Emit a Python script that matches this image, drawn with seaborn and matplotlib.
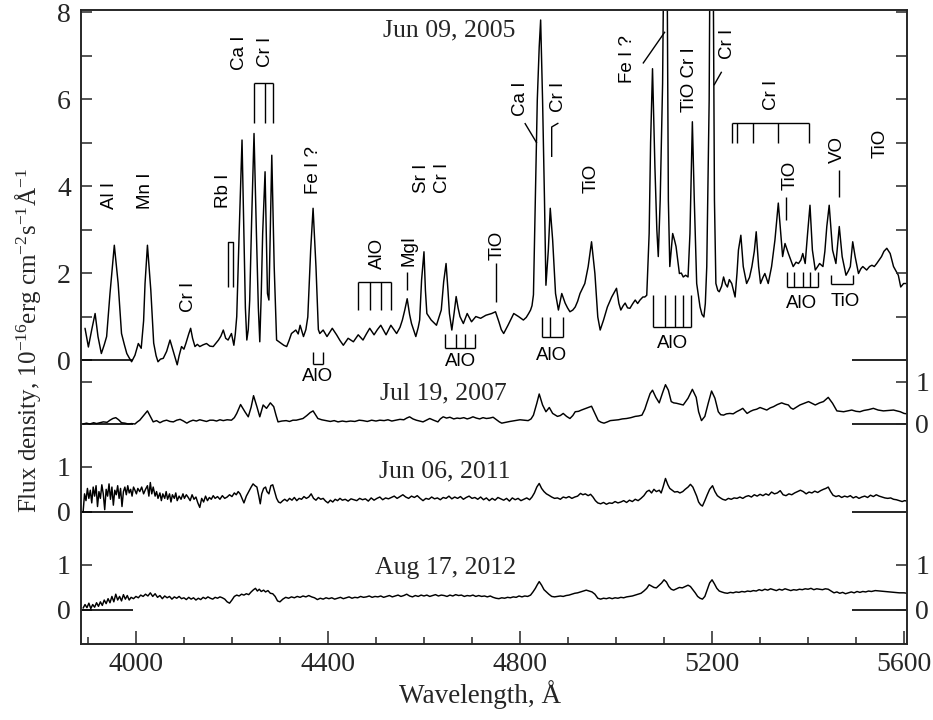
import numpy as np
import pandas as pd
import matplotlib
matplotlib.use("Agg")
import matplotlib.pyplot as plt
import seaborn as sns

# ---------------- data ----------------
wl_2005 = [3894, 3901, 3908, 3915, 3921, 3928, 3934, 3939, 3946, 3955,
           3963, 3970, 3976, 3981, 3986, 3991, 3998, 4005, 4011, 4016,
           4019, 4024, 4031, 4037, 4042, 4046, 4051, 4057, 4064, 4071,
           4078, 4086, 4090, 4095, 4100, 4104, 4110, 4114, 4118, 4123,
           4128, 4133, 4140, 4147, 4154, 4161, 4166, 4172, 4177, 4182,
           4187, 4192, 4199, 4204, 4207, 4210, 4215, 4221, 4225, 4228,
           4231, 4234, 4237, 4241, 4246, 4251, 4255, 4258, 4261, 4264,
           4269, 4272, 4274, 4277, 4280, 4283, 4288, 4293, 4298, 4303,
           4308, 4314, 4319, 4324, 4333, 4338, 4342, 4349, 4354, 4358,
           4364, 4369, 4375, 4380, 4383, 4390, 4398, 4409, 4418, 4425,
           4432, 4442, 4453, 4463, 4473, 4480, 4487, 4496, 4503, 4510,
           4521, 4531, 4543, 4550, 4555, 4560, 4565, 4570, 4574, 4583,
           4588, 4591, 4595, 4600, 4603, 4606, 4615, 4626, 4636, 4641,
           4646, 4650, 4653, 4658, 4663, 4667, 4671, 4675, 4682, 4690,
           4699, 4708, 4718, 4729, 4741, 4749, 4756, 4761, 4766, 4775,
           4787, 4797, 4807, 4813, 4818, 4822, 4825, 4828, 4832, 4836,
           4840, 4843, 4847, 4851, 4854, 4859, 4863, 4868, 4874, 4880,
           4887, 4894, 4899, 4904, 4910, 4915, 4920, 4925, 4935, 4942,
           4949, 4956, 4962, 4967, 4974, 4982, 4991, 4996, 5001, 5006,
           5010, 5015, 5019, 5024, 5029, 5035, 5040, 5045, 5050, 5056,
           5060, 5064, 5069, 5072, 5076, 5081, 5085, 5088, 5092, 5097,
           5100, 5106, 5109, 5112, 5118, 5122, 5125, 5132, 5136, 5140,
           5145, 5150, 5154, 5159, 5163, 5168, 5175, 5179, 5183, 5186,
           5189, 5194, 5196, 5202, 5205, 5208, 5212, 5215, 5220, 5224,
           5228, 5232, 5236, 5241, 5248, 5252, 5255, 5260, 5265, 5272,
           5278, 5283, 5288, 5292, 5297, 5301, 5306, 5310, 5317, 5324,
           5331, 5338, 5343, 5347, 5352, 5359, 5364, 5369, 5375, 5380,
           5385, 5389, 5394, 5399, 5404, 5409, 5415, 5420, 5424, 5431,
           5435, 5439, 5444, 5451, 5458, 5465, 5471, 5479, 5484, 5488,
           5493, 5498, 5505, 5510, 5514, 5522, 5528, 5533, 5538, 5543,
           5548, 5553, 5558, 5564, 5571, 5578, 5583, 5588, 5593, 5599, 5606]
flux_2005 = [0.73, 0.30, 0.70, 1.07, 0.54, 0.15, 0.35, 0.54, 1.53, 2.64,
             1.76, 0.61, 0.35, 0.15, 0.05, -0.04, 0.11, 0.38, 0.27, 0.90,
             1.76, 2.64, 1.61, 0.39, 0.10, -0.04, 0.02, 0.04, 0.20, 0.46,
             0.19, -0.11, 0.10, 0.31, 0.25, 0.38, 0.60, 0.73, 0.50, 0.31,
             0.36, 0.31, 0.35, 0.38, 0.32, 0.31, 0.38, 0.46, 0.55, 0.69,
             0.50, 0.46, 0.61, 0.34, 0.60, 1.00, 2.91, 5.06, 2.91, 1.20,
             0.46, 0.70, 1.38, 3.20, 5.21, 2.91, 1.20, 0.42, 1.50, 2.91,
             4.33, 2.60, 1.53, 1.38, 3.00, 4.71, 2.15, 0.46, 0.42, 0.38,
             0.34, 0.31, 0.45, 0.61, 0.69, 0.60, 0.80, 0.54, 0.70, 0.99,
             2.53, 3.49, 2.15, 0.70, 0.61, 0.69, 0.54, 0.73, 0.58, 0.45,
             0.34, 0.50, 0.42, 0.58, 0.46, 0.60, 0.73, 0.58, 0.70, 0.80,
             0.58, 0.80, 0.61, 0.75, 0.92, 1.15, 1.41, 1.05, 0.84, 0.54,
             0.75, 0.92, 1.84, 2.49, 1.60, 1.07, 0.92, 0.80, 1.15, 1.80,
             2.22, 1.60, 1.07, 0.69, 1.10, 1.46, 1.20, 1.00, 0.84, 1.07,
             0.88, 1.00, 0.96, 1.03, 1.07, 1.11, 0.88, 0.70, 0.61, 0.80,
             1.07, 1.00, 0.92, 0.98, 1.07, 1.15, 1.25, 1.50, 3.68, 5.98,
             7.20, 7.82, 5.98, 3.68, 1.72, 2.53, 3.49, 2.76, 1.53, 1.15,
             1.53, 1.31, 1.20, 1.11, 1.15, 1.22, 1.35, 1.53, 1.76, 2.15,
             2.72, 1.99, 0.99, 0.69, 0.92, 1.22, 1.45, 1.55, 1.65, 1.30,
             1.15, 1.25, 1.31, 1.20, 1.19, 1.30, 1.38, 1.30, 1.38, 1.45,
             1.45, 1.49, 2.91, 5.00, 6.70, 4.44, 3.00, 2.38, 3.68, 6.36,
             10.0, 10.0, 3.68, 2.15, 2.91, 2.75, 2.61, 1.99, 2.00, 1.91,
             1.95, 1.91, 2.91, 5.48, 3.68, 1.76, 1.22, 1.05, 0.99, 1.30,
             2.15, 5.98, 10.0, 10.0, 3.68, 1.76, 1.60, 1.57, 1.70, 1.91,
             1.75, 1.68, 1.85, 1.76, 1.45, 2.00, 2.53, 2.87, 2.15, 1.76,
             1.90, 2.15, 2.50, 2.95, 2.15, 1.76, 1.90, 1.99, 1.76, 2.15,
             2.76, 3.61, 2.91, 2.38, 2.68, 2.45, 2.30, 2.15, 2.25, 2.22,
             2.30, 2.45, 2.22, 2.91, 3.56, 2.53, 2.07, 2.15, 2.22, 2.15,
             2.50, 3.07, 3.56, 2.53, 2.22, 3.07, 2.38, 1.95, 2.05, 2.15,
             2.72, 2.38, 1.99, 2.10, 2.15, 2.07, 2.15, 2.18, 2.15, 2.22,
             2.30, 2.38, 2.50, 2.57, 2.45, 2.15, 2.05, 1.95, 1.68, 1.76, 1.76]

wl_2007 = [3890, 3897, 3904, 3912, 3918, 3925, 3932, 3940, 3946, 3952,
           3958, 3964, 3970, 3977, 3984, 3991, 3998, 4003, 4008, 4016,
           4024, 4030, 4036, 4043, 4050, 4057, 4064, 4071, 4078, 4085,
           4092, 4099, 4106, 4112, 4119, 4126, 4133, 4140, 4147, 4154,
           4161, 4168, 4175, 4182, 4190, 4199, 4205, 4210, 4218, 4227,
           4234, 4240, 4245, 4252, 4258, 4265, 4272, 4280, 4287, 4292,
           4296, 4304, 4313, 4320, 4327, 4334, 4341, 4348, 4356, 4363,
           4369, 4374, 4379, 4387, 4396, 4405, 4413, 4421, 4430, 4438,
           4447, 4456, 4465, 4473, 4482, 4491, 4500, 4508, 4517, 4525,
           4533, 4542, 4550, 4558, 4564, 4570, 4577, 4584, 4591, 4598,
           4605, 4612, 4620, 4629, 4634, 4640, 4647, 4654, 4662, 4669,
           4675, 4683, 4690, 4696, 4702, 4709, 4716, 4723, 4730, 4737,
           4744, 4751, 4757, 4762, 4770, 4779, 4790, 4800, 4808, 4817,
           4823, 4828, 4835, 4840, 4847, 4854, 4861, 4868, 4878, 4884,
           4890, 4897, 4904, 4910, 4915, 4922, 4928, 4935, 4942, 4949,
           4956, 4963, 4969, 4975, 4982, 4988, 4997, 5005, 5013, 5022,
           5031, 5040, 5047, 5054, 5060, 5064, 5071, 5076, 5083, 5090,
           5097, 5103, 5109, 5115, 5120, 5126, 5133, 5140, 5150, 5159,
           5167, 5172, 5178, 5185, 5192, 5199, 5206, 5213, 5218, 5224,
           5230, 5237, 5244, 5251, 5258, 5264, 5273, 5280, 5286, 5293,
           5300, 5307, 5314, 5321, 5328, 5336, 5345, 5352, 5359, 5364,
           5369, 5376, 5383, 5392, 5401, 5408, 5415, 5424, 5432, 5437,
           5442, 5451, 5460, 5467, 5474, 5482, 5491, 5500, 5508, 5516,
           5526, 5536, 5546, 5557, 5567, 5578, 5585, 5592, 5600, 5606]
flux_2007 = [0.00, 0.02, 0.00, 0.03, 0.01, 0.03, 0.05, 0.04, 0.09, 0.13,
             0.15, 0.10, 0.03, 0.02, 0.00, 0.01, 0.00, 0.05, 0.09, 0.20,
             0.31, 0.18, 0.05, 0.08, 0.03, 0.07, 0.09, 0.06, 0.05, 0.09,
             0.11, 0.07, 0.02, 0.06, 0.09, 0.07, 0.10, 0.08, 0.06, 0.09,
             0.09, 0.07, 0.10, 0.08, 0.10, 0.09, 0.15, 0.25, 0.46, 0.29,
             0.17, 0.40, 0.67, 0.41, 0.17, 0.45, 0.37, 0.50, 0.41, 0.20,
             0.05, 0.07, 0.08, 0.06, 0.09, 0.09, 0.11, 0.13, 0.20, 0.27,
             0.31, 0.22, 0.13, 0.10, 0.08, 0.06, 0.08, 0.05, 0.07, 0.055,
             0.07, 0.06, 0.09, 0.08, 0.06, 0.09, 0.07, 0.09, 0.08, 0.10,
             0.07, 0.09, 0.11, 0.10, 0.14, 0.17, 0.12, 0.09, 0.07, 0.05,
             0.09, 0.13, 0.09, 0.05, 0.12, 0.17, 0.14, 0.16, 0.12, 0.14,
             0.13, 0.15, 0.12, 0.14, 0.17, 0.14, 0.12, 0.15, 0.13, 0.14,
             0.16, 0.10, 0.05, 0.02, 0.04, 0.06, 0.08, 0.10, 0.09, 0.08,
             0.12, 0.21, 0.49, 0.71, 0.45, 0.29, 0.39, 0.25, 0.18, 0.20,
             0.25, 0.18, 0.13, 0.20, 0.29, 0.30, 0.33, 0.36, 0.39, 0.42,
             0.25, 0.08, 0.04, 0.02, 0.05, 0.08, 0.09, 0.10, 0.12, 0.13,
             0.15, 0.18, 0.19, 0.21, 0.35, 0.49, 0.72, 0.80, 0.63, 0.50,
             0.74, 0.93, 0.80, 0.53, 0.50, 0.49, 0.47, 0.45, 0.61, 0.82,
             0.63, 0.29, 0.08, 0.18, 0.49, 0.78, 0.61, 0.29, 0.22, 0.21,
             0.24, 0.25, 0.24, 0.29, 0.33, 0.37, 0.25, 0.30, 0.33, 0.35,
             0.39, 0.36, 0.33, 0.38, 0.41, 0.46, 0.50, 0.47, 0.45, 0.38,
             0.35, 0.40, 0.45, 0.49, 0.53, 0.49, 0.45, 0.50, 0.53, 0.58,
             0.63, 0.49, 0.31, 0.30, 0.29, 0.31, 0.33, 0.30, 0.29, 0.32,
             0.34, 0.37, 0.33, 0.31, 0.32, 0.33, 0.31, 0.29, 0.25, 0.24]

wl_2011 = [3890, 3893, 3896, 3899, 3902, 3905, 3908, 3911, 3914, 3917, 3920, 3923, 3926, 3929, 3932, 3935, 3938,
           3941, 3944, 3947, 3950, 3953, 3956, 3959, 3962, 3965, 3968, 3971, 3974, 3977, 3980, 3983, 3986, 3989,
           3992, 3995, 3998, 4001, 4004, 4008, 4012, 4016, 4020, 4024, 4027, 4030, 4033, 4036, 4040, 4043, 4046,
           4050, 4053, 4056, 4060, 4063, 4066, 4070, 4073, 4076, 4080, 4083, 4086, 4090, 4094, 4098, 4101, 4105,
           4109, 4113, 4117, 4121, 4125, 4129, 4133, 4137, 4141, 4145, 4149, 4153, 4157, 4161, 4165, 4170, 4175,
           4180, 4185, 4190, 4195, 4200, 4205, 4209, 4213, 4217, 4221, 4225, 4230, 4235, 4240, 4244, 4248, 4252,
           4256, 4259, 4262, 4266, 4270, 4273, 4277, 4281, 4285, 4289, 4293, 4297, 4301, 4306, 4310, 4315, 4320,
           4325, 4330, 4335, 4340, 4345, 4350, 4355, 4360, 4365, 4370, 4375, 4380, 4385, 4390, 4395, 4400, 4405,
           4410, 4415, 4420, 4425, 4430, 4436, 4442, 4448, 4454, 4460, 4466, 4472, 4478, 4484, 4490, 4496, 4502,
           4508, 4514, 4520, 4526, 4532, 4538, 4544, 4550, 4556, 4562, 4568, 4574, 4580, 4586, 4592, 4598, 4604,
           4610, 4616, 4622, 4628, 4634, 4640, 4646, 4652, 4658, 4664, 4670, 4676, 4682, 4688, 4694, 4700, 4706,
           4712, 4718, 4724, 4730, 4736, 4742, 4748, 4754, 4760, 4766, 4772, 4778, 4784, 4790, 4796, 4802, 4808,
           4814, 4820, 4825, 4830, 4835, 4840, 4845, 4850, 4855, 4860, 4866, 4872, 4878, 4884, 4890, 4896, 4902,
           4908, 4914, 4920, 4926, 4931, 4936, 4942, 4947, 4952, 4957, 4962, 4968, 4974, 4980, 4986, 4992, 4998,
           5004, 5010, 5016, 5022, 5028, 5034, 5040, 5046, 5052, 5058, 5064, 5069, 5074, 5079, 5084, 5090, 5094,
           5098, 5103, 5108, 5112, 5117, 5122, 5128, 5133, 5139, 5144, 5150, 5155, 5160, 5164, 5168, 5172, 5176,
           5180, 5185, 5190, 5195, 5201, 5206, 5211, 5216, 5222, 5228, 5234, 5240, 5246, 5252, 5258, 5264, 5270,
           5276, 5282, 5288, 5294, 5300, 5306, 5312, 5318, 5324, 5330, 5336, 5342, 5348, 5354, 5360, 5366, 5372,
           5378, 5384, 5390, 5396, 5402, 5408, 5414, 5420, 5426, 5432, 5437, 5442, 5447, 5452, 5458, 5464, 5470,
           5476, 5482, 5488, 5494, 5500, 5506, 5512, 5518, 5524, 5530, 5536, 5542, 5548, 5554, 5560, 5566, 5572,
           5578, 5584, 5590, 5596, 5601, 5606]
flux_2011 = [0.00, 0.40, 0.25, 0.52, 0.30, 0.48, 0.20, 0.55, 0.35, 0.58, 0.12, 0.45, 0.30, 0.60, 0.40, 0.05, 0.50,
             0.35, 0.62, 0.28, 0.55, 0.15, 0.48, 0.38, 0.58, 0.30, 0.52, 0.12, 0.45, 0.55, 0.38, 0.58, 0.42, 0.50,
             0.35, 0.55, 0.48, 0.40, 0.52, 0.45, 0.55, 0.40, 0.50, 0.58, 0.35, 0.65, 0.40, 0.55, 0.35, 0.45, 0.30,
             0.42, 0.25, 0.40, 0.30, 0.45, 0.28, 0.40, 0.22, 0.38, 0.30, 0.42, 0.25, 0.35, 0.28, 0.40, 0.30, 0.38,
             0.32, 0.25, 0.38, 0.28, 0.33, 0.20, 0.10, 0.30, 0.22, 0.35, 0.25, 0.32, 0.28, 0.36, 0.30, 0.34, 0.28,
             0.36, 0.30, 0.33, 0.38, 0.34, 0.42, 0.38, 0.45, 0.40, 0.30, 0.20, 0.35, 0.45, 0.55, 0.62, 0.58, 0.55,
             0.35, 0.18, 0.40, 0.52, 0.55, 0.45, 0.40, 0.58, 0.60, 0.45, 0.30, 0.22, 0.20, 0.25, 0.28, 0.24, 0.30,
             0.26, 0.32, 0.25, 0.30, 0.28, 0.34, 0.30, 0.33, 0.40, 0.30, 0.26, 0.32, 0.28, 0.30, 0.24, 0.20, 0.26,
             0.22, 0.28, 0.25, 0.30, 0.26, 0.28, 0.24, 0.29, 0.27, 0.25, 0.30, 0.27, 0.29, 0.24, 0.31, 0.26, 0.30,
             0.33, 0.27, 0.31, 0.29, 0.32, 0.35, 0.30, 0.34, 0.38, 0.33, 0.30, 0.35, 0.32, 0.36, 0.30, 0.25, 0.30,
             0.28, 0.33, 0.29, 0.31, 0.27, 0.32, 0.30, 0.35, 0.29, 0.33, 0.30, 0.34, 0.28, 0.32, 0.35, 0.30, 0.32,
             0.28, 0.33, 0.27, 0.31, 0.25, 0.30, 0.26, 0.32, 0.29, 0.26, 0.30, 0.24, 0.31, 0.27, 0.30, 0.25, 0.28,
             0.31, 0.27, 0.33, 0.42, 0.55, 0.63, 0.52, 0.45, 0.40, 0.37, 0.33, 0.30, 0.31, 0.28, 0.33, 0.31, 0.34,
             0.30, 0.33, 0.35, 0.41, 0.38, 0.40, 0.36, 0.39, 0.33, 0.25, 0.20, 0.18, 0.21, 0.17, 0.20, 0.19, 0.23,
             0.20, 0.22, 0.25, 0.21, 0.26, 0.23, 0.28, 0.25, 0.30, 0.36, 0.45, 0.48, 0.42, 0.50, 0.45, 0.48, 0.42,
             0.55, 0.74, 0.60, 0.52, 0.48, 0.44, 0.45, 0.42, 0.45, 0.50, 0.55, 0.61, 0.55, 0.45, 0.35, 0.22, 0.16,
             0.13, 0.25, 0.38, 0.50, 0.58, 0.45, 0.36, 0.32, 0.28, 0.26, 0.30, 0.28, 0.31, 0.30, 0.33, 0.30, 0.34,
             0.36, 0.33, 0.38, 0.35, 0.39, 0.36, 0.40, 0.37, 0.44, 0.40, 0.42, 0.47, 0.38, 0.36, 0.40, 0.38, 0.42,
             0.45, 0.48, 0.45, 0.40, 0.44, 0.42, 0.46, 0.43, 0.47, 0.50, 0.52, 0.55, 0.45, 0.37, 0.34, 0.36, 0.32,
             0.35, 0.33, 0.36, 0.31, 0.34, 0.30, 0.33, 0.35, 0.32, 0.37, 0.34, 0.38, 0.35, 0.33, 0.31, 0.30, 0.31,
             0.28, 0.27, 0.25, 0.23, 0.25, 0.24]

wl_2012 = [3890, 3894, 3898, 3902, 3906, 3910, 3914, 3918, 3922, 3926, 3930, 3934, 3938, 3942, 3946, 3950, 3954,
           3958, 3962, 3966, 3970, 3974, 3978, 3982, 3986, 3990, 3995, 4000, 4005, 4010, 4015, 4020, 4025, 4030,
           4035, 4040, 4045, 4050, 4055, 4060, 4065, 4070, 4075, 4080, 4085, 4090, 4095, 4100, 4105, 4110, 4115,
           4120, 4125, 4130, 4135, 4140, 4145, 4150, 4155, 4160, 4165, 4170, 4175, 4180, 4185, 4190, 4195, 4200,
           4205, 4210, 4215, 4220, 4225, 4230, 4235, 4240, 4245, 4249, 4253, 4257, 4261, 4266, 4270, 4275, 4280,
           4285, 4290, 4295, 4300, 4306, 4312, 4318, 4324, 4330, 4336, 4342, 4348, 4354, 4360, 4366, 4372, 4378,
           4384, 4390, 4396, 4402, 4408, 4414, 4420, 4426, 4432, 4438, 4444, 4450, 4456, 4462, 4468, 4474, 4480,
           4486, 4492, 4498, 4504, 4510, 4516, 4522, 4528, 4534, 4540, 4546, 4552, 4558, 4564, 4570, 4576, 4582,
           4588, 4594, 4600, 4606, 4612, 4618, 4624, 4630, 4636, 4642, 4648, 4654, 4660, 4666, 4672, 4678, 4684,
           4690, 4696, 4702, 4708, 4714, 4720, 4726, 4732, 4738, 4744, 4750, 4756, 4762, 4768, 4774, 4780, 4786,
           4792, 4798, 4804, 4810, 4816, 4822, 4827, 4832, 4836, 4840, 4845, 4850, 4855, 4860, 4866, 4872, 4878,
           4884, 4890, 4896, 4902, 4908, 4914, 4920, 4926, 4932, 4938, 4944, 4950, 4956, 4962, 4968, 4974, 4980,
           4986, 4992, 4998, 5004, 5010, 5016, 5022, 5028, 5034, 5040, 5046, 5052, 5058, 5064, 5069, 5074, 5079,
           5084, 5090, 5095, 5100, 5105, 5110, 5115, 5120, 5126, 5132, 5138, 5144, 5150, 5155, 5160, 5165, 5170,
           5175, 5180, 5185, 5190, 5195, 5200, 5205, 5210, 5215, 5220, 5226, 5232, 5238, 5244, 5250, 5256, 5262,
           5268, 5274, 5280, 5286, 5292, 5298, 5304, 5310, 5316, 5322, 5328, 5334, 5340, 5346, 5352, 5358, 5364,
           5370, 5376, 5382, 5388, 5394, 5400, 5406, 5412, 5418, 5424, 5430, 5436, 5442, 5448, 5454, 5460, 5466,
           5472, 5478, 5484, 5490, 5496, 5502, 5508, 5514, 5520, 5526, 5532, 5540, 5550, 5560, 5570, 5580, 5590,
           5600, 5606]
flux_2012 = [0.04, 0.12, 0.05, 0.15, 0.03, 0.12, 0.06, 0.16, 0.08, 0.18, 0.10, 0.22, 0.14, 0.25, 0.16, 0.30, 0.18,
             0.35, 0.22, 0.30, 0.20, 0.34, 0.24, 0.32, 0.22, 0.28, 0.25, 0.30, 0.27, 0.33, 0.30, 0.35, 0.31, 0.38,
             0.30, 0.36, 0.28, 0.32, 0.25, 0.31, 0.27, 0.30, 0.24, 0.29, 0.26, 0.30, 0.25, 0.27, 0.23, 0.28, 0.24,
             0.27, 0.22, 0.26, 0.23, 0.28, 0.25, 0.29, 0.26, 0.24, 0.28, 0.26, 0.29, 0.27, 0.24, 0.18, 0.15, 0.22,
             0.30, 0.33, 0.31, 0.35, 0.33, 0.36, 0.34, 0.40, 0.45, 0.48, 0.42, 0.46, 0.41, 0.44, 0.40, 0.43, 0.37,
             0.36, 0.30, 0.20, 0.18, 0.24, 0.28, 0.26, 0.29, 0.27, 0.30, 0.28, 0.31, 0.29, 0.32, 0.29, 0.27, 0.23,
             0.26, 0.24, 0.27, 0.25, 0.27, 0.24, 0.26, 0.28, 0.25, 0.27, 0.29, 0.26, 0.28, 0.27, 0.30, 0.28, 0.29,
             0.31, 0.28, 0.30, 0.29, 0.31, 0.28, 0.30, 0.32, 0.29, 0.31, 0.33, 0.30, 0.32, 0.35, 0.31, 0.29, 0.32,
             0.30, 0.33, 0.31, 0.33, 0.30, 0.32, 0.34, 0.31, 0.33, 0.32, 0.30, 0.33, 0.31, 0.34, 0.32, 0.33, 0.30,
             0.32, 0.31, 0.33, 0.30, 0.32, 0.30, 0.31, 0.29, 0.31, 0.28, 0.26, 0.25, 0.27, 0.26, 0.28, 0.27, 0.29,
             0.28, 0.31, 0.29, 0.31, 0.30, 0.33, 0.40, 0.48, 0.56, 0.63, 0.55, 0.45, 0.40, 0.35, 0.30, 0.29, 0.30,
             0.31, 0.30, 0.32, 0.33, 0.35, 0.37, 0.38, 0.40, 0.42, 0.44, 0.42, 0.40, 0.35, 0.26, 0.24, 0.26, 0.25,
             0.27, 0.25, 0.27, 0.26, 0.28, 0.27, 0.29, 0.30, 0.31, 0.33, 0.35, 0.37, 0.42, 0.48, 0.56, 0.53, 0.50,
             0.49, 0.55, 0.60, 0.67, 0.62, 0.52, 0.46, 0.44, 0.47, 0.50, 0.49, 0.52, 0.55, 0.52, 0.45, 0.38, 0.30,
             0.26, 0.24, 0.30, 0.45, 0.60, 0.67, 0.58, 0.48, 0.42, 0.40, 0.38, 0.37, 0.39, 0.38, 0.40, 0.39, 0.41,
             0.40, 0.42, 0.41, 0.43, 0.42, 0.45, 0.43, 0.46, 0.44, 0.47, 0.45, 0.43, 0.46, 0.44, 0.47, 0.45, 0.43,
             0.45, 0.44, 0.46, 0.45, 0.47, 0.46, 0.48, 0.45, 0.47, 0.46, 0.45, 0.47, 0.46, 0.42, 0.38, 0.40, 0.37,
             0.39, 0.36, 0.38, 0.40, 0.38, 0.41, 0.39, 0.41, 0.40, 0.42, 0.41, 0.43, 0.42, 0.41, 0.40, 0.39, 0.38,
             0.38, 0.37]

epochs = ["Jun 09, 2005", "Jul 19, 2007", "Jun 06, 2011", "Aug 17, 2012"]

# ---------------- layout (offsets / scale of each spectrum on the common axis) ----------------
offsets = [0.0, -1.471, -3.494, -5.747]
scales = [1.0, 0.972, 1.041, 1.034]
date_pos = [(4652, 7.57), (4640, -0.76), (4644, -2.57), (4644, -4.78)]

# line identifications: (text, wavelength, y, rotation)
line_ids = [
    ("Al I", 3946, 3.79, 90), ("Mn I", 4021, 3.89, 90), ("Cr I", 4110, 1.45, 90), ("Rb I", 4183, 3.89, 90),
    ("Ca I", 4215, 7.06, 90), ("Cr I", 4269, 7.08, 90), ("Fe I ?", 4369, 4.37, 90), ("AlO", 4503, 2.46, 90),
    ("MgI", 4569, 2.52, 90), ("Sr I", 4595, 4.18, 90), ("Cr I", 4638, 4.18, 90), ("TiO", 4752, 2.64, 90),
    ("Ca I", 4800, 6.00, 90), ("Cr I", 4881, 6.05, 90), ("TiO", 4948, 4.18, 90), ("Fe I ?", 5023, 6.92, 90),
    ("TiO Cr I", 5154, 6.44, 90), ("Cr I", 5233, 7.26, 90), ("Cr I", 5323, 6.09, 90), ("TiO", 5363, 4.25, 90),
    ("VO", 5461, 4.85, 90), ("TiO", 5550, 4.99, 90),
    ("AlO", 4379, -0.39, 0), ("AlO", 4677, -0.03, 0), ("AlO", 4865, 0.10, 0), ("AlO", 5117, 0.38, 0),
    ("AlO", 5387, 1.29, 0), ("TiO", 5478, 1.34, 0),
]

def comb(xs, y_base, y_tip):
    """A horizontal bar with vertical teeth (identification bracket)."""
    segs = [([xs[0], xs[-1]], [y_base, y_base])]
    for x in xs:
        segs.append(([x, x], [y_base, y_tip]))
    return segs

marks = []
marks += [([4192, 4192, 4203, 4203], [1.68, 2.71, 2.71, 1.68])]
marks += comb([4246, 4269, 4285], 6.37, 5.45)
marks += comb([4463, 4487, 4510, 4532], 1.80, 1.15)
marks += [([4564, 4564], [1.60, 2.03])]
marks += [([4751, 4751], [1.34, 2.23])]
marks += [([4810, 4835], [5.45, 4.99])]
marks += [([4880, 4866, 4866], [5.45, 5.36, 4.67])]
marks += [([5056, 5102], [6.82, 7.55])]
marks += [([5204, 5220], [6.32, 6.63])]
marks += comb([5241, 5253, 5286, 5337, 5401], 5.46, 5.00)
marks += [([5354, 5354], [3.22, 3.75])]
marks += [([5465, 5465], [3.75, 4.37])]
marks += comb([5356, 5371, 5389, 5404, 5421], 1.67, 2.03)
marks += comb([5448, 5494], 1.76, 1.95)
marks += comb([5076, 5102, 5123, 5139, 5156], 0.77, 1.49)
marks += comb([4845, 4862, 4890], 0.54, 0.99)
marks += comb([4644, 4667, 4685, 4706], 0.27, 0.61)
marks += comb([4369, 4390], -0.09, 0.19)

for a, b in [(wl_2005, flux_2005), (wl_2007, flux_2007), (wl_2011, flux_2011), (wl_2012, flux_2012)]:
    assert len(a) == len(b), (len(a), len(b))

# ---------------- style ----------------
sns.set_style("ticks")
plt.rcParams["font.family"] = ["Liberation Serif", "DejaVu Serif"]
plt.rcParams["mathtext.fontset"] = "custom"
plt.rcParams["mathtext.rm"] = "Liberation Serif"
plt.rcParams["mathtext.it"] = "Liberation Serif:italic"
plt.rcParams["axes.linewidth"] = 1.2

fig = plt.figure(figsize=(9.33, 7.2), dpi=100)
ax = fig.add_axes([0.0865, 0.1056, 0.8856, 0.8805])

frames = []
for name, wl, fx, off, sc in zip(epochs, [wl_2005, wl_2007, wl_2011, wl_2012],
                                 [flux_2005, flux_2007, flux_2011, flux_2012], offsets, scales):
    d = pd.DataFrame({"wavelength": wl, "flux": fx})
    d["y"] = off + sc * d["flux"]
    d["epoch"] = name
    frames.append(d)
df = pd.concat(frames, ignore_index=True)

sns.lineplot(data=df, x="wavelength", y="y", units="epoch", estimator=None, color="black",
             linewidth=1.05, sort=True, ax=ax, legend=False)

xmin, xmax = 3885, 5606
ymin, ymax = -6.53, 8.05
ax.set_xlim(xmin, xmax)
ax.set_ylim(ymin, ymax)

# zero-level markers
for off in offsets:
    ax.plot([xmin, 3993], [off, off], color="black", lw=1.2, solid_capstyle="butt")
    ax.plot([5491, xmax], [off, off], color="black", lw=1.2, solid_capstyle="butt")

# identifications
for txt, x, y, rot in line_ids:
    ax.text(x, y, txt, rotation=rot, ha="center", va="center", fontsize=13.5,
            family=["Liberation Sans", "DejaVu Sans"], color="black")
for xs, ys in marks:
    ax.plot(xs, ys, color="black", lw=1.0, solid_capstyle="butt")

for name, (x, y) in zip(epochs, date_pos):
    ax.text(x, y, name, ha="center", va="center", fontsize=18.5)

# x axis
ax.set_xticks([4000, 4400, 4800, 5200, 5600])
ax.set_xticks(np.arange(3900, 5601, 100), minor=True)
ax.tick_params(axis="x", which="major", direction="in", length=9.5, width=1.1, labelsize=20, pad=6)
ax.tick_params(axis="x", which="minor", direction="in", length=5, width=1.1)
ax.set_xlabel("")
ax.set_ylabel("")

# left y axis
lt = [8, 7, 6, 5, 4, 3, 2, 1, 0, offsets[1] + scales[1], offsets[2] + scales[2], offsets[2],
      offsets[3] + scales[3], offsets[3]]
ll = ["8", "", "6", "", "4", "", "2", "", "0", "", "1", "0", "1", "0"]
ax.set_yticks(lt)
ax.set_yticklabels(ll)
ax.tick_params(axis="y", which="both", direction="in", length=8, width=1.1, labelsize=20, pad=7)
ax.tick_params(axis="y", which="minor", left=False, right=False)

# right y axis
ax2 = ax.twinx()
ax2.set_ylim(ymin, ymax)
rt = [8, 7, 6, 5, 4, 3, 2, 1, offsets[1] + scales[1], offsets[1], offsets[3] + scales[3], offsets[3]]
rl = ["", "", "", "", "", "", "", "", "1", "0", "1", "0"]
ax2.set_yticks(rt)
ax2.set_yticklabels(rl)
ax2.tick_params(axis="y", direction="in", length=8, width=1.1, labelsize=20, pad=6)
ax2.tick_params(axis="y", which="minor", right=False)
for a in (ax, ax2):
    for s in a.spines.values():
        s.set_linewidth(1.2)

fig.text(480 / 933, 1 - 703 / 720, "Wavelength, Å", ha="center", va="baseline", fontsize=19.5)
fig.text(28 / 933, 1 - 340 / 720,
         r"Flux density, 10$^{-16}$erg cm$^{-2}$s$^{-1}$Å$^{-1}$",
         rotation=90, ha="center", va="center", fontsize=18)

fig.savefig("out.png", dpi=100)
